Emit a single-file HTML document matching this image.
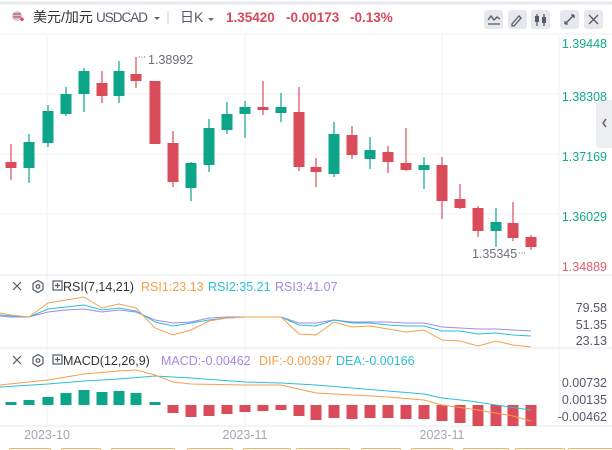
<!DOCTYPE html>
<html><head><meta charset="utf-8"><style>
html,body{margin:0;padding:0;background:#fff;width:612px;height:450px;overflow:hidden}
svg{display:block}
text{font-family:"Liberation Sans","Noto Sans CJK SC",sans-serif}
</style></head><body>
<svg width="612" height="450" viewBox="0 0 612 450" xmlns="http://www.w3.org/2000/svg">
<rect x="0" y="0" width="612" height="450" fill="#fff"/>
<line x1="0" y1="3" x2="612" y2="3" stroke="#e6e8ec" stroke-width="3"/>
<line x1="0" y1="34" x2="612" y2="34" stroke="#eef0f3" stroke-width="1"/>
<!-- header -->
<circle cx="17" cy="16" r="5" fill="#c9ccd4"/>
<path d="M13 14h8M13 17h8" stroke="#d9485a" stroke-width="1.2"/>
<path d="M20 19l2 -2l2 2l-1 2h-2z" fill="#d9485a"/>
<text x="33" y="22" font-size="14" fill="#333">美元/加元</text>
<text x="96" y="22" font-size="13.5" fill="#555a66" textLength="52">USDCAD</text>
<path d="M154 17l3 3l3 -3z" fill="#666"/>
<line x1="168" y1="11" x2="168" y2="24" stroke="#ccc"/>
<text x="180" y="22" font-size="14" fill="#555a66">日K</text>
<path d="M208 18l3 3l3 -3z" fill="#666"/>
<text x="226" y="22" font-size="13.5" font-weight="bold" fill="#d9485a">1.35420</text>
<text x="286" y="22" font-size="13.5" font-weight="bold" fill="#d9485a">-0.00173</text>
<text x="350" y="22" font-size="13.5" font-weight="bold" fill="#d9485a">-0.13%</text>
<g fill="#e6e8ee">
<rect x="484" y="10" width="19" height="19" rx="3"/>
<rect x="508" y="10" width="19" height="19" rx="3"/>
<rect x="531" y="10" width="19" height="19" rx="3"/>
<rect x="560" y="10" width="19" height="19" rx="3"/>
<rect x="584" y="10" width="19" height="19" rx="3"/>
</g>
<g stroke="#555a66" stroke-width="1.3" fill="none">
<path d="M488 20l3 -4l3 4l3 -3l3 2M488 24h12"/>
<path d="M512 24l7 -8l2 2l-7 8h-2z"/>
<path d="M537 14v12M544 14v12"/>
<path d="M565 24l9 -9M565 24h3M565 24v-3M574 15h-3M574 15v3"/>
<path d="M589 15l9 9M598 15l-9 9"/>
</g>
<rect x="535" y="16" width="4" height="6" fill="#555a66"/><rect x="542" y="17" width="4" height="6" fill="#555a66"/>
<!-- side tab -->
<rect x="596" y="100" width="20" height="48" rx="4" fill="#eceef2"/>
<path d="M606 119l-3 4l3 4" stroke="#666" stroke-width="1.5" fill="none"/>
<!-- grid -->
<g stroke="#f1f2f4" stroke-width="1">
<line x1="0" y1="94" x2="559" y2="94"/><line x1="0" y1="154" x2="559" y2="154"/><line x1="0" y1="214" x2="559" y2="214"/>
<line x1="47" y1="35" x2="47" y2="426"/><line x1="245" y1="35" x2="245" y2="426"/><line x1="442" y1="35" x2="442" y2="426"/>
<line x1="559" y1="35" x2="559" y2="426"/>
</g>
<g stroke="#eceef1" stroke-width="1.2">
<line x1="0" y1="275" x2="612" y2="275"/><line x1="0" y1="348" x2="612" y2="348"/><line x1="0" y1="426" x2="612" y2="426"/>
</g>
<!-- price labels -->
<g font-size="12.5" fill="#14a88a" text-anchor="end">
<text x="607" y="48">1.39448</text><text x="607" y="101">1.38308</text><text x="607" y="161">1.37169</text><text x="607" y="221">1.36029</text>
<text x="607" y="271" fill="#e0606e">1.34889</text>
</g>
<!-- candles -->
<g stroke-width="1.2">
<g stroke="#db4c5a" fill="#db4c5a">
<path d="M11 144V180M102 71V103M136 57V88M155 81V144M173 131V187M263 81V115M299 87V171M316 158V187M352 126V159M388 146V173M406 128V171M442 157V219M460 184V209M478 206V237M513 202V241M531 235V250"/>
<rect x="5.5" y="162" width="11" height="6" stroke="none"/>
<rect x="96.5" y="83" width="11" height="13" stroke="none"/>
<rect x="130.5" y="74" width="11" height="7" stroke="none"/>
<rect x="149.5" y="81" width="11" height="63" stroke="none"/>
<rect x="167.5" y="143" width="11" height="39" stroke="none"/>
<rect x="257.5" y="107" width="11" height="3" stroke="none"/>
<rect x="293.5" y="112" width="11" height="55" stroke="none"/>
<rect x="310.5" y="167" width="11" height="5" stroke="none"/>
<rect x="346.5" y="135" width="11" height="20" stroke="none"/>
<rect x="382.5" y="152" width="11" height="10" stroke="none"/>
<rect x="400.5" y="163" width="11" height="7" stroke="none"/>
<rect x="436.5" y="165" width="11" height="36" stroke="none"/>
<rect x="454.5" y="199" width="11" height="9" stroke="none"/>
<rect x="472.5" y="208" width="11" height="23" stroke="none"/>
<rect x="507.5" y="223" width="11" height="15" stroke="none"/>
<rect x="525.5" y="237" width="11" height="10" stroke="none"/>
</g>
<g stroke="#0ca58a" fill="#0ca58a">
<path d="M29 134V183M48 105V147M66 87V116M84 68V112M119 61V103M191 162V201M209 119V172M227 102V134M245 101V138M281 93V122M334 122V177M370 137V169M424 157V189M496 208V247"/>
<rect x="23.5" y="142" width="11" height="26" stroke="none"/>
<rect x="42.5" y="111" width="11" height="32" stroke="none"/>
<rect x="60.5" y="94" width="11" height="20" stroke="none"/>
<rect x="78.5" y="71" width="11" height="23" stroke="none"/>
<rect x="113.5" y="71" width="11" height="25" stroke="none"/>
<rect x="185.5" y="163" width="11" height="25" stroke="none"/>
<rect x="203.5" y="128" width="11" height="37" stroke="none"/>
<rect x="221.5" y="114" width="11" height="16" stroke="none"/>
<rect x="239.5" y="107" width="11" height="7" stroke="none"/>
<rect x="275.5" y="107" width="11" height="6" stroke="none"/>
<rect x="328.5" y="134" width="11" height="40" stroke="none"/>
<rect x="364.5" y="150" width="11" height="9" stroke="none"/>
<rect x="418.5" y="165" width="11" height="5" stroke="none"/>
<rect x="490.5" y="222" width="11" height="9" stroke="none"/>
</g>
</g>
<text x="148" y="64" font-size="12.5" fill="#6b6f7a">1.38992</text>
<path d="M139 57h7" stroke="#6b6f7a" stroke-dasharray="1 1.5"/>
<text x="472" y="258" font-size="12.5" fill="#6b6f7a">1.35345</text>
<path d="M519 253h7" stroke="#6b6f7a" stroke-dasharray="1 1.5"/>
<!-- RSI panel -->
<g stroke="#555a66" stroke-width="1.2" fill="none">
<path d="M13 282l8 8M21 282l-8 8"/>
<path d="M38 280.5l5 3v6l-5 3l-5 -3v-6z"/><circle cx="38" cy="286.5" r="1.8"/>
<rect x="53" y="281" width="9" height="9"/><path d="M57.5 283v5M55 285.5h5"/>
</g>
<text x="63" y="291" font-size="12.5" fill="#333">RSI(7,14,21)</text>
<text x="141" y="291" font-size="12.5" fill="#f5a04a">RSI1:23.13</text>
<text x="208" y="291" font-size="12.5" fill="#2bbfd8">RSI2:35.21</text>
<text x="275" y="291" font-size="12.5" fill="#a688e6">RSI3:41.07</text>
<g font-size="12.5" fill="#555a66" text-anchor="end">
<text x="607" y="312">79.58</text><text x="607" y="329">51.35</text><text x="607" y="345">23.13</text>
</g>
<g fill="none" stroke-width="1">
<polyline stroke="#a688e6" points="0,316 11,317 29,317 48,312 66,310 84,309 102,312 119,310 136,312 155,320 173,323 191,322 209,318 227,317 245,317 263,317 281,317 299,323 316,323 334,320 352,322 370,322 388,322 406,323 424,323 442,327 460,328 478,329 496,329 513,330 531,331"/>
<polyline stroke="#2bbfd8" points="0,315 11,316 29,317 48,309 66,307 84,305 102,310 119,308 136,311 155,322 173,326 191,323 209,320 227,318 245,317 263,317 281,317 299,325 316,326 334,320 352,323 370,323 388,325 406,326 424,326 442,331 460,331 478,334 496,333 513,335 531,336"/>
<polyline stroke="#f5a04a" points="0,313 11,315 29,317 48,303 66,300 84,297 102,308 119,304 136,308 155,328 173,335 191,330 209,321 227,318 245,317 263,317 281,317 299,334 316,335 334,322 352,327 370,326 388,329 406,332 424,330 442,340 460,341 478,346 496,341 513,345 531,347"/>
</g>
<!-- MACD panel -->
<g stroke="#555a66" stroke-width="1.2" fill="none">
<path d="M13 356l8 8M21 356l-8 8"/>
<path d="M38 354.5l5 3v6l-5 3l-5 -3v-6z"/><circle cx="38" cy="360.5" r="1.8"/>
<rect x="53" y="355" width="9" height="9"/><path d="M57.5 357v5M55 359.5h5"/>
</g>
<text x="63" y="365" font-size="12.5" fill="#333">MACD(12,26,9)</text>
<text x="161" y="365" font-size="12.5" fill="#a688e6">MACD:-0.00462</text>
<text x="259" y="365" font-size="12.5" fill="#f5a04a">DIF:-0.00397</text>
<text x="336" y="365" font-size="12.5" fill="#2bbfd8">DEA:-0.00166</text>
<g font-size="12.5" fill="#555a66" text-anchor="end">
<text x="607" y="387">0.00732</text><text x="607" y="404">0.00135</text><text x="607" y="421">-0.00462</text>
</g>
<g fill="#0ca58a">
<rect x="5.5" y="402" width="11" height="3"/><rect x="23.5" y="400" width="11" height="5"/><rect x="42.5" y="397" width="11" height="8"/>
<rect x="60.5" y="393" width="11" height="12"/><rect x="78.5" y="390" width="11" height="15"/><rect x="96.5" y="392" width="11" height="13"/>
<rect x="113.5" y="391" width="11" height="14"/><rect x="130.5" y="393" width="11" height="12"/><rect x="149.5" y="402" width="11" height="3"/>
</g>
<g fill="#db4c5a">
<rect x="167.5" y="405" width="11" height="8"/><rect x="185.5" y="405" width="11" height="12"/><rect x="203.5" y="405" width="11" height="11"/>
<rect x="221.5" y="405" width="11" height="9"/><rect x="239.5" y="405" width="11" height="7"/><rect x="257.5" y="405" width="11" height="6"/>
<rect x="275.5" y="405" width="11" height="5"/><rect x="293.5" y="405" width="11" height="11"/><rect x="310.5" y="405" width="11" height="15"/>
<rect x="328.5" y="405" width="11" height="13"/><rect x="346.5" y="405" width="11" height="14"/><rect x="364.5" y="405" width="11" height="13"/>
<rect x="382.5" y="405" width="11" height="13"/><rect x="400.5" y="405" width="11" height="14"/><rect x="418.5" y="405" width="11" height="14"/>
<rect x="436.5" y="405" width="11" height="16"/><rect x="454.5" y="405" width="11" height="18"/><rect x="472.5" y="405" width="11" height="21"/>
<rect x="490.5" y="405" width="11" height="21"/><rect x="507.5" y="405" width="11" height="21"/><rect x="525.5" y="405" width="11" height="21"/>
</g>
<g fill="none" stroke-width="1">
<polyline stroke="#2bbfd8" points="0,387 48,384 84,381 119,379 155,376 191,378 245,382 281,383 316,385 352,388 388,391 424,394 442,398 470,401 496,405 531,410"/>
<polyline stroke="#f5a04a" points="0,385 48,380 84,374 119,371 136,370 155,375 173,382 191,384 245,385 281,385 316,393 352,395 388,397 424,400 442,405 478,410 513,416 531,421"/>
</g>
<!-- date labels -->
<g font-size="12.5" fill="#a3a7b3" text-anchor="middle">
<text x="47" y="439">2023-10</text><text x="245" y="439">2023-11</text><text x="442" y="439">2023-11</text>
</g>
<g fill="none" stroke="#e8b56a" stroke-width="1">
<rect x="9" y="448.5" width="42" height="10" rx="2"/><rect x="61" y="448.5" width="40" height="10" rx="2"/><rect x="111" y="448.5" width="64" height="10" rx="2"/>
<rect x="187" y="448.5" width="46" height="10" rx="2"/><rect x="243" y="448.5" width="48" height="10" rx="2"/><rect x="296" y="448.5" width="54" height="10" rx="2"/>
<rect x="361" y="448.5" width="40" height="10" rx="2"/><rect x="411" y="448.5" width="42" height="10" rx="2"/><rect x="463" y="448.5" width="46" height="10" rx="2"/>
<rect x="515" y="448.5" width="50" height="10" rx="2"/><rect x="568" y="448.5" width="50" height="10" rx="2"/>
</g>
</svg>
</body></html>
